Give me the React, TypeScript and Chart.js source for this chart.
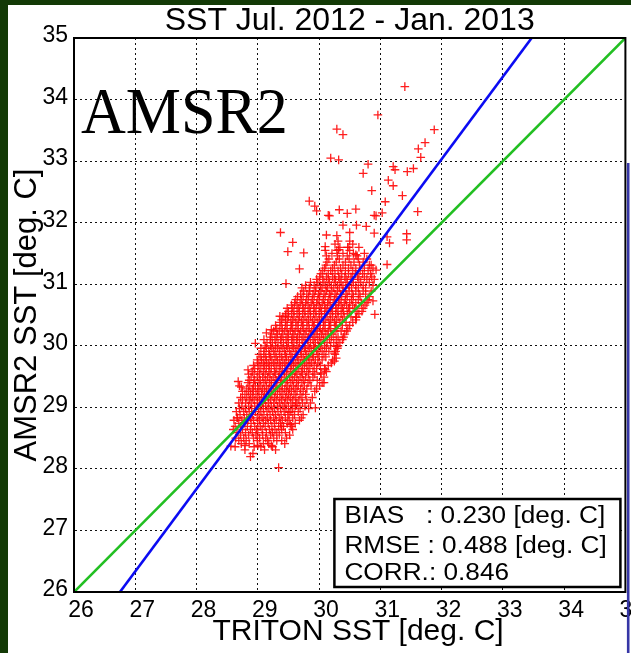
import React, { useEffect, useRef } from 'react';
import { Chart, registerables } from 'chart.js';

Chart.register(...registerables);

// ---------- text ----------
const titleText = 'SST Jul. 2012 - Jan. 2013';
const xTitle = '\u00a0\u00a0TRITON SST [deg. C]';
const yTitle = 'AMSR2 SST [deg. C]';
const panelLabel = 'AMSR2';
const statLines = ['BIAS   : 0.230 [deg. C]', 'RMSE : 0.488 [deg. C]', 'CORR.: 0.846'];

// ---------- axes ----------
const axisMin = 26;
const axisMax = 35;
const tickStep = 1;

// ---------- reference lines ----------
const oneToOneLine = [
  { x: 26, y: 26 },
  { x: 35, y: 35 },
];
const regressionLine = [
  { x: 26.75, y: 26 },
  { x: 33.47, y: 35 },
];

// ---------- scatter ----------
// dense core, row by row: [AMSR2 SST, TRITON SST values at that level]
const coreRows: [number, number[]][] = [
  [28.31, [28.79, 29.11, 29.29]],
  [28.36, [28.63, 28.94, 29.05, 29.24]],
  [28.41, [28.73, 28.86, 29.09, 29.18, 29.44]],
  [28.46, [28.69, 28.81, 28.99, 29.16, 29.31, 29.39]],
  [28.5, [28.64, 28.77, 28.93, 29.03, 29.13, 29.26, 29.47]],
  [28.55, [28.72, 28.85, 28.97, 29.08, 29.21, 29.35, 29.52]],
  [28.59, [28.66, 28.8, 28.91, 29.0, 29.14, 29.24, 29.31, 29.45]],
  [28.64, [28.6, 28.75, 28.88, 28.98, 29.07, 29.19, 29.28, 29.39, 29.57]],
  [28.69, [28.63, 28.72, 28.83, 28.95, 29.04, 29.12, 29.23, 29.34, 29.42, 29.55]],
  [28.74, [28.69, 28.79, 28.89, 29.0, 29.09, 29.17, 29.27, 29.37, 29.48, 29.61]],
  [28.79, [28.61, 28.74, 28.84, 28.93, 29.03, 29.13, 29.21, 29.3, 29.4, 29.51, 29.68]],
  [28.83, [28.67, 28.78, 28.88, 28.99, 29.07, 29.16, 29.26, 29.35, 29.45, 29.57, 29.71]],
  [28.88, [28.71, 28.82, 28.91, 29.02, 29.1, 29.2, 29.29, 29.38, 29.49, 29.6, 29.74]],
  [28.93, [28.65, 28.77, 28.86, 28.96, 29.05, 29.15, 29.24, 29.33, 29.43, 29.54, 29.66]],
  [28.98, [28.7, 28.8, 28.9, 29.01, 29.09, 29.18, 29.27, 29.37, 29.46, 29.57, 29.69, 29.83]],
  [29.02, [28.74, 28.85, 28.95, 29.04, 29.13, 29.22, 29.32, 29.41, 29.5, 29.61, 29.77]],
  [29.07, [28.69, 28.8, 28.89, 28.99, 29.08, 29.17, 29.26, 29.35, 29.44, 29.54, 29.64, 29.73, 29.86]],
  [29.12, [28.75, 28.86, 28.94, 29.03, 29.12, 29.21, 29.3, 29.39, 29.48, 29.57, 29.67, 29.8]],
  [29.16, [28.72, 28.82, 28.91, 29.0, 29.09, 29.18, 29.27, 29.36, 29.45, 29.53, 29.62, 29.72, 29.89]],
  [29.21, [28.79, 28.88, 28.97, 29.06, 29.14, 29.23, 29.32, 29.41, 29.5, 29.59, 29.69, 29.78]],
  [29.26, [28.75, 28.85, 28.93, 29.02, 29.11, 29.2, 29.29, 29.38, 29.47, 29.55, 29.64, 29.74, 29.93]],
  [29.3, [28.82, 28.91, 29.0, 29.08, 29.17, 29.26, 29.35, 29.44, 29.52, 29.61, 29.7, 29.8, 29.96]],
  [29.35, [28.7, 28.87, 28.96, 29.05, 29.14, 29.22, 29.31, 29.4, 29.49, 29.58, 29.66, 29.76, 29.87, 30.01]],
  [29.4, [28.84, 28.93, 29.02, 29.1, 29.19, 29.28, 29.37, 29.46, 29.54, 29.63, 29.72, 29.82, 30.05]],
  [29.44, [28.86, 28.95, 29.04, 29.13, 29.22, 29.31, 29.39, 29.48, 29.57, 29.66, 29.75, 29.85, 29.97]],
  [29.49, [28.89, 28.99, 29.08, 29.16, 29.25, 29.34, 29.43, 29.52, 29.6, 29.69, 29.78, 29.9, 30.08]],
  [29.54, [28.85, 28.94, 29.03, 29.12, 29.2, 29.29, 29.38, 29.47, 29.56, 29.64, 29.73, 29.83, 29.93, 30.03]],
  [29.58, [28.91, 29.0, 29.09, 29.18, 29.27, 29.35, 29.44, 29.53, 29.62, 29.71, 29.8, 29.9, 30.12]],
  [29.63, [28.95, 29.05, 29.14, 29.22, 29.31, 29.4, 29.49, 29.58, 29.67, 29.76, 29.85, 29.96, 30.09]],
  [29.68, [28.93, 29.02, 29.11, 29.19, 29.28, 29.37, 29.46, 29.55, 29.64, 29.73, 29.82, 29.92, 30.02, 30.15]],
  [29.72, [29.0, 29.09, 29.17, 29.26, 29.35, 29.44, 29.53, 29.61, 29.7, 29.79, 29.88, 29.98, 30.2]],
  [29.77, [28.99, 29.06, 29.14, 29.23, 29.32, 29.41, 29.5, 29.58, 29.67, 29.76, 29.85, 29.94, 30.05, 30.22]],
  [29.82, [29.05, 29.13, 29.21, 29.3, 29.39, 29.47, 29.56, 29.65, 29.74, 29.83, 29.91, 30.0, 30.11]],
  [29.86, [29.02, 29.1, 29.19, 29.28, 29.36, 29.45, 29.54, 29.63, 29.71, 29.8, 29.89, 29.98, 30.08, 30.26]],
  [29.91, [29.1, 29.18, 29.26, 29.35, 29.44, 29.52, 29.61, 29.7, 29.78, 29.87, 29.96, 30.05, 30.16, 30.27]],
  [29.96, [29.05, 29.14, 29.23, 29.32, 29.41, 29.49, 29.58, 29.67, 29.76, 29.84, 29.93, 30.02, 30.12, 30.3]],
  [30.0, [29.12, 29.21, 29.29, 29.38, 29.47, 29.56, 29.64, 29.73, 29.82, 29.91, 29.99, 30.09, 30.19, 30.31]],
  [30.05, [29.15, 29.24, 29.33, 29.42, 29.5, 29.59, 29.68, 29.77, 29.86, 29.94, 30.03, 30.13, 30.24, 30.34]],
  [30.1, [29.1, 29.2, 29.28, 29.37, 29.46, 29.55, 29.63, 29.72, 29.81, 29.9, 29.98, 30.07, 30.17, 30.28, 30.38]],
  [30.14, [29.21, 29.3, 29.39, 29.48, 29.57, 29.65, 29.74, 29.83, 29.92, 30.01, 30.1, 30.2, 30.31, 30.4]],
  [30.19, [29.23, 29.32, 29.41, 29.5, 29.59, 29.68, 29.77, 29.86, 29.95, 30.04, 30.13, 30.23, 30.42]],
  [30.24, [29.26, 29.35, 29.44, 29.53, 29.61, 29.7, 29.79, 29.88, 29.97, 30.06, 30.15, 30.26, 30.36, 30.45]],
  [30.28, [29.31, 29.4, 29.48, 29.57, 29.66, 29.75, 29.84, 29.93, 30.02, 30.1, 30.19, 30.29, 30.47]],
  [30.33, [29.29, 29.38, 29.46, 29.55, 29.64, 29.73, 29.82, 29.91, 30.0, 30.08, 30.17, 30.27, 30.38, 30.5]],
  [30.38, [29.36, 29.45, 29.54, 29.62, 29.71, 29.8, 29.89, 29.98, 30.07, 30.16, 30.25, 30.34, 30.44, 30.55]],
  [30.42, [29.39, 29.48, 29.57, 29.66, 29.74, 29.83, 29.92, 30.01, 30.1, 30.19, 30.28, 30.38, 30.6]],
  [30.47, [29.41, 29.5, 29.59, 29.68, 29.77, 29.86, 29.95, 30.04, 30.13, 30.22, 30.31, 30.41, 30.52, 30.6]],
  [30.52, [29.46, 29.55, 29.64, 29.73, 29.82, 29.91, 30.0, 30.09, 30.18, 30.27, 30.36, 30.46, 30.65]],
  [30.56, [29.5, 29.59, 29.68, 29.77, 29.86, 29.95, 30.04, 30.13, 30.22, 30.31, 30.4, 30.5, 30.62, 30.7]],
  [30.61, [29.48, 29.57, 29.66, 29.75, 29.84, 29.93, 30.02, 30.11, 30.2, 30.29, 30.38, 30.48, 30.58, 30.72]],
  [30.66, [29.55, 29.64, 29.73, 29.82, 29.91, 30.0, 30.09, 30.18, 30.27, 30.36, 30.45, 30.55, 30.75]],
  [30.7, [29.6, 29.69, 29.78, 29.87, 29.96, 30.05, 30.14, 30.23, 30.32, 30.41, 30.5, 30.6, 30.69, 30.78]],
  [30.75, [29.62, 29.71, 29.8, 29.89, 29.98, 30.07, 30.16, 30.25, 30.34, 30.43, 30.53, 30.64, 30.8]],
  [30.8, [29.65, 29.74, 29.83, 29.92, 30.01, 30.1, 30.19, 30.28, 30.37, 30.46, 30.56, 30.67, 30.82]],
  [30.84, [29.7, 29.8, 29.9, 29.99, 30.08, 30.17, 30.26, 30.35, 30.44, 30.54, 30.65, 30.76]],
  [30.89, [29.75, 29.85, 29.94, 30.03, 30.12, 30.21, 30.3, 30.39, 30.49, 30.6, 30.72, 30.85]],
  [30.94, [29.72, 29.84, 29.95, 30.05, 30.14, 30.24, 30.33, 30.43, 30.53, 30.64, 30.76]],
  [30.98, [29.78, 29.92, 30.02, 30.11, 30.2, 30.3, 30.39, 30.49, 30.6, 30.72, 30.88]],
  [31.03, [29.86, 29.98, 30.08, 30.17, 30.27, 30.36, 30.46, 30.56, 30.68, 30.82]],
  [31.08, [29.96, 30.06, 30.15, 30.25, 30.34, 30.44, 30.54, 30.65, 30.78, 30.9]],
  [31.12, [30.01, 30.12, 30.22, 30.32, 30.42, 30.52, 30.63, 30.74, 30.86]],
  [31.17, [30.03, 30.15, 30.26, 30.37, 30.48, 30.59, 30.71, 30.84]],
  [31.22, [30.06, 30.19, 30.31, 30.43, 30.55, 30.67, 30.8]],
  [31.26, [30.09, 30.22, 30.35, 30.48, 30.6, 30.74, 30.88]],
  [31.31, [30.11, 30.25, 30.39, 30.52, 30.66, 30.82]],
  [31.36, [30.13, 30.28, 30.43, 30.57, 30.72]],
  [31.41, [30.16, 30.33, 30.49, 30.64, 30.78]],
  [31.46, [30.12, 30.3, 30.46, 30.62]],
  [31.5, [30.21, 30.39, 30.56, 30.74]],
  [31.55, [30.1, 30.29, 30.5]],
  [31.6, [30.34, 30.47, 30.65]],
  [31.65, [30.26, 30.55]],
  [31.7, [30.31, 30.5]],
];

// scattered points: [TRITON SST, AMSR2 SST]
const outlierPoints: [number, number][] = [
  [31.4, 34.21], [30.96, 33.75], [31.88, 33.51], [30.29, 33.52], [30.39, 33.43],
  [31.73, 33.3], [31.62, 33.2], [31.66, 33.06], [30.19, 33.05], [30.32, 33.02],
  [30.8, 32.95], [31.21, 32.91], [31.24, 32.86], [30.72, 32.8], [31.54, 32.88],
  [31.44, 32.83], [31.13, 32.69], [31.21, 32.6], [30.86, 32.52], [31.36, 32.44],
  [29.84, 32.35], [29.93, 32.27], [29.96, 32.19], [31.08, 32.34], [31.61, 32.18],
  [30.15, 32.12], [30.33, 32.21], [30.46, 32.15], [30.6, 32.22], [30.9, 32.12],
  [31.03, 32.16], [30.93, 32.11], [30.17, 32.11],
  [29.37, 31.84], [29.57, 31.68], [29.49, 31.53], [29.75, 31.51], [29.68, 31.25],
  [29.46, 31.01], [30.12, 31.8], [30.29, 31.79], [30.39, 31.96], [30.61, 31.96],
  [30.77, 31.94], [30.9, 31.83], [30.5, 31.84], [30.32, 31.56], [30.47, 31.6],
  [30.6, 31.48], [30.1, 31.61], [31.11, 31.77], [31.15, 31.67], [31.43, 31.82],
  [31.43, 31.72], [31.11, 31.32], [30.93, 31.23], [30.85, 31.31], [29.36, 30.48],
  [29.45, 30.48],
  [29.34, 28.02], [28.88, 28.2], [28.92, 28.25], [28.79, 28.38], [28.56, 28.37],
  [29.0, 28.38], [29.22, 28.38], [28.66, 28.83], [28.68, 29.42], [28.73, 29.33],
  [28.84, 29.61], [28.96, 30.04], [29.14, 30.21], [29.22, 30.26],
  [30.08, 29.4], [30.03, 29.56], [30.1, 29.61], [30.25, 29.88], [30.28, 29.99],
  [30.25, 29.75], [30.28, 29.8], [29.94, 28.99], [29.62, 29.03], [29.51, 28.92],
  [29.53, 28.72], [29.38, 28.69], [30.88, 30.73], [30.91, 30.51], [30.61, 30.46],
];

const FONT = '"Liberation Sans", Arial, Helvetica, sans-serif';

const decorPlugin = {
  id: 'decor',
  afterDraw(chart: any) {
    const { ctx, chartArea: a } = chart;
    ctx.save();
    // axes box
    ctx.strokeStyle = '#000';
    ctx.lineWidth = 2;
    ctx.setLineDash([]);
    ctx.strokeRect(a.left, a.top, a.right - a.left, a.bottom - a.top);

    // big panel label
    ctx.fillStyle = '#000';
    ctx.font = '66px "Liberation Serif", "Times New Roman", serif';
    ctx.textBaseline = 'alphabetic';
    ctx.textAlign = 'left';
    ctx.save();
    ctx.translate(a.left + 7, a.top + 95);
    ctx.scale(0.94, 1);
    ctx.fillText(panelLabel, 0, 0);
    ctx.restore();

    // statistics box
    const bx = a.right - 291;
    const by = a.bottom - 93;
    const bw = 286;
    const bh = 88;
    ctx.fillStyle = '#fff';
    ctx.fillRect(bx, by, bw, bh);
    ctx.strokeStyle = '#000';
    ctx.lineWidth = 2.5;
    ctx.strokeRect(bx, by, bw, bh);
    ctx.fillStyle = '#000';
    ctx.font = '23px ' + FONT;
    const baselines = [24.3, 53.7, 81];
    statLines.forEach((t, i) => {
      ctx.save();
      ctx.translate(bx + 10, by + baselines[i]);
      ctx.scale(1.14, 1);
      ctx.fillText(t, 0, 0);
      ctx.restore();
    });

    // edge of neighbouring panel on the right
    ctx.fillStyle = '#3636a6';
    ctx.fillRect(a.right + 1.5, a.top + 125, 2.6, chart.height - (a.top + 125));
    ctx.restore();
  },
};

export default function App() {
  const canvasRef = useRef<HTMLCanvasElement | null>(null);

  useEffect(() => {
    document.body.style.margin = '0';
    const canvas = canvasRef.current;
    if (!canvas) return;

    const scatterData: { x: number; y: number }[] = [];
    coreRows.forEach(([yv, xs]) => xs.forEach((xv) => scatterData.push({ x: xv, y: yv })));
    outlierPoints.forEach(([xv, yv]) => scatterData.push({ x: xv, y: yv }));

    const gridOpts = {
      color: '#111',
      lineWidth: 1,
      drawTicks: false,
    };

    const chart = new Chart(canvas, {
      type: 'scatter',
      data: {
        datasets: [
          {
            label: 'regression',
            data: regressionLine,
            showLine: true,
            borderColor: '#0b0bf2',
            borderWidth: 2.6,
            pointRadius: 0,
            order: 0,
          },
          {
            label: '1:1',
            data: oneToOneLine,
            showLine: true,
            borderColor: '#22bf22',
            borderWidth: 2.6,
            pointRadius: 0,
            order: 1,
          },
          {
            label: 'SST',
            data: scatterData,
            pointStyle: 'cross',
            pointRadius: 4.3,
            borderColor: 'rgba(255,10,10,0.92)',
            backgroundColor: 'rgba(255,10,10,0.92)',
            borderWidth: 1.3,
            order: 2,
          },
        ],
      },
      options: {
        responsive: false,
        animation: false,
        events: [],
        layout: { padding: { top: 0, left: 0, right: 5, bottom: 0 } },
        plugins: {
          legend: { display: false },
          tooltip: { enabled: false },
          title: {
            display: true,
            fullSize: false,
            text: titleText,
            color: '#000',
            font: { family: FONT, size: 32, weight: 'normal', lineHeight: 1 },
            padding: { top: 0, bottom: 1 },
          },
        },
        scales: {
          x: {
            type: 'linear',
            min: axisMin,
            max: axisMax,
            ticks: {
              stepSize: tickStep,
              color: '#000',
              font: { family: FONT, size: 23, lineHeight: 1.2 },
              padding: 5,
              labelOffset: 7,
              maxRotation: 0,
              autoSkip: false,
            },
            grid: gridOpts,
            border: { display: true, color: '#000', width: 2, dash: [2, 3] },
            title: {
              display: true,
              text: xTitle,
              color: '#000',
              font: { family: FONT, size: 30, lineHeight: 1 },
              padding: { top: 0, bottom: 6 },
            },
            afterFit: (s: any) => {
              s.height = 61;
              s.paddingLeft = 0;
              s.paddingRight = 0;
            },
          },
          y: {
            type: 'linear',
            min: axisMin,
            max: axisMax,
            ticks: {
              stepSize: tickStep,
              color: '#000',
              font: { family: FONT, size: 23 },
              padding: 6,
              labelOffset: -2,
              autoSkip: false,
            },
            grid: gridOpts,
            border: { display: true, color: '#000', width: 2, dash: [2, 3] },
            title: {
              display: true,
              text: yTitle,
              color: '#000',
              font: { family: FONT, size: 31, lineHeight: 1 },
              padding: { top: 3.5, bottom: 0 },
            },
            afterFit: (s: any) => {
              s.width = 66;
              s.paddingTop = 0;
              s.paddingBottom = 0;
            },
          },
        },
      } as any,
      plugins: [decorPlugin],
    });

    return () => chart.destroy();
  }, []);

  return (
    <div style={{ position: 'relative', width: 631, height: 653, background: '#133a06', overflow: 'hidden' }}>
      <div style={{ position: 'absolute', left: 8, top: 5, width: 623, height: 648, background: '#fff' }}>
        <canvas ref={canvasRef} width={623} height={648} style={{ display: 'block', width: 623, height: 648 }} />
      </div>
    </div>
  );
}
